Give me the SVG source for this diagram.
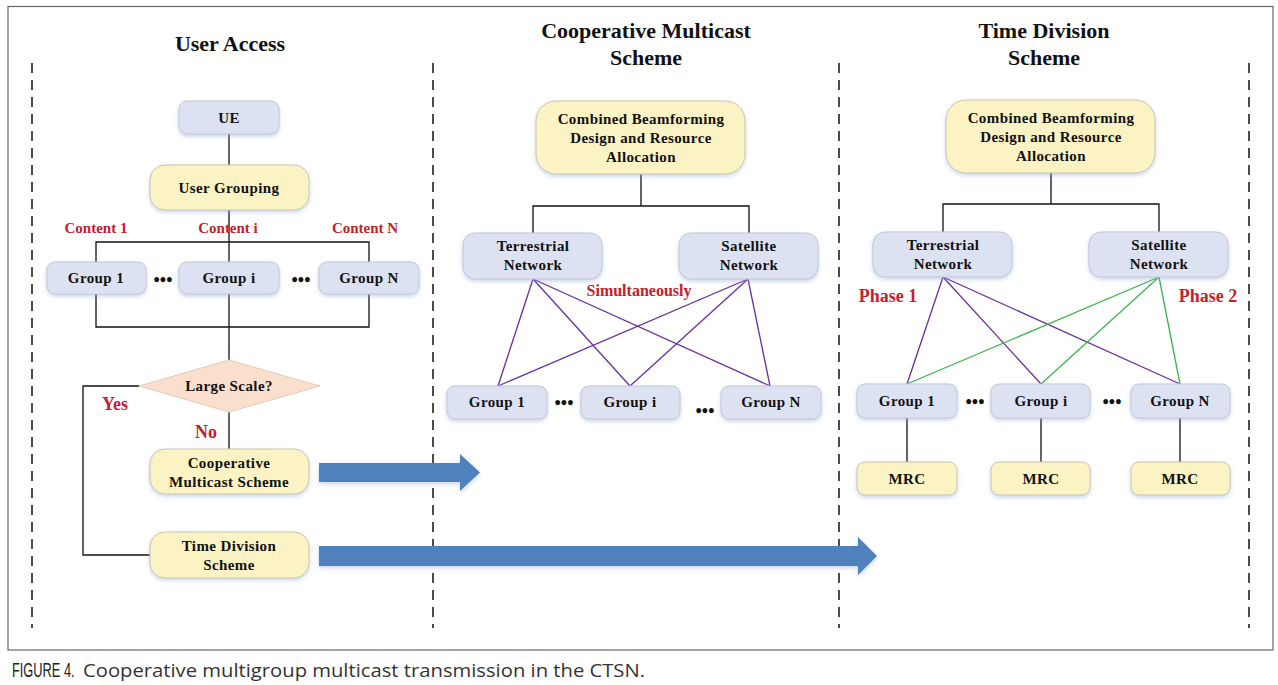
<svg xmlns="http://www.w3.org/2000/svg" width="1278" height="685" viewBox="0 0 1278 685">
<defs>
<filter id="sh" x="-10%" y="-20%" width="120%" height="150%">
<feDropShadow dx="0" dy="2" stdDeviation="2" flood-color="#8aa2d0" flood-opacity="0.45"/>
</filter>
<style>
.blue{fill:#dde2f3;stroke:#c3c7d3;stroke-width:1;filter:url(#sh)}
.yel{fill:#fbf3c4;stroke:#c9c6b0;stroke-width:1;filter:url(#sh)}
.t{font-family:"Liberation Serif","Times New Roman",serif;font-weight:bold;font-size:15px;fill:#111;text-anchor:middle;letter-spacing:0.4px}
.h{font-family:"Liberation Serif","Times New Roman",serif;font-weight:bold;font-size:22px;fill:#111;text-anchor:middle}
.r{font-family:"Liberation Serif","Times New Roman",serif;font-weight:bold;fill:#c4202c;text-anchor:middle}
.ln{stroke:#111;stroke-width:1.3;fill:none}
.pu{stroke:#6a2ea0;stroke-width:1.3;fill:none}
.gr{stroke:#3cb44b;stroke-width:1.3;fill:none}
.dash{stroke:#111;stroke-width:1.5;stroke-dasharray:10,7;fill:none}
.dots{font-family:"Liberation Serif",serif;font-weight:bold;font-size:18px;fill:#111;text-anchor:middle}
.arr{fill:#4f81bd;filter:url(#sh)}
</style>
</defs>
<rect width="1278" height="685" fill="#fff"/>
<rect x="8" y="6.5" width="1265" height="643.5" fill="none" stroke="#666" stroke-width="1.2"/>

<g id="dividers">
<line class="dash" x1="32" y1="63" x2="32" y2="628"/>
<line class="dash" x1="433" y1="63" x2="433" y2="628"/>
<line class="dash" x1="839" y1="63" x2="839" y2="628"/>
<line class="dash" x1="1249" y1="63" x2="1249" y2="628"/>
</g>

<g id="titles">
<text class="h" x="230" y="51">User Access</text>
<text class="h" x="646" y="38">Cooperative Multicast</text>
<text class="h" x="646" y="65">Scheme</text>
<text class="h" x="1044" y="38">Time Division</text>
<text class="h" x="1044" y="65">Scheme</text>
</g>

<g id="connectors">
<line class="ln" x1="229" y1="134" x2="229" y2="165"/>
<line class="ln" x1="229" y1="210" x2="229" y2="262"/>
<polyline class="ln" points="96,262 96,242 369,242 369,262"/>
<polyline class="ln" points="96,294 96,327 369,327 369,294"/>
<line class="ln" x1="229" y1="294" x2="229" y2="360"/>
<line class="ln" x1="229" y1="412" x2="229" y2="449"/>
<polyline class="ln" points="139,386 83,386 83,555 150,555"/>
<line class="ln" x1="641" y1="174" x2="641" y2="206"/>
<polyline class="ln" points="533,233 533,206 749,206 749,233"/>
<line class="pu" x1="533" y1="279" x2="498" y2="386"/>
<line class="pu" x1="533" y1="279" x2="630" y2="386"/>
<line class="pu" x1="533" y1="279" x2="770" y2="386"/>
<line class="pu" x1="748" y1="279" x2="498" y2="386"/>
<line class="pu" x1="748" y1="279" x2="630" y2="386"/>
<line class="pu" x1="748" y1="279" x2="770" y2="386"/>
<line class="ln" x1="1051" y1="173" x2="1051" y2="204"/>
<polyline class="ln" points="943,232 943,204 1159,204 1159,232"/>
<line class="pu" x1="943" y1="277" x2="907" y2="384"/>
<line class="pu" x1="943" y1="277" x2="1041" y2="384"/>
<line class="pu" x1="943" y1="277" x2="1180" y2="384"/>
<line class="gr" x1="1159" y1="277" x2="907" y2="384"/>
<line class="gr" x1="1159" y1="277" x2="1041" y2="384"/>
<line class="gr" x1="1159" y1="277" x2="1180" y2="384"/>
<line class="ln" x1="907" y1="418" x2="907" y2="462"/>
<line class="ln" x1="1041" y1="418" x2="1041" y2="462"/>
<line class="ln" x1="1180" y1="418" x2="1180" y2="462"/>
<polygon class="arr" points="319,463 460,463 460,454 480,472.5 460,491 460,482 319,482"/>
<polygon class="arr" points="319,546 858,546 858,537 877,556 858,575 858,566 319,566"/>
</g>

<g id="ue"><rect class="blue" x="179" y="101" width="100" height="33" rx="8"/><text class="t" x="229" y="123">UE</text></g>
<g id="user-grouping"><rect class="yel" x="150" y="165" width="159" height="45" rx="15"/><text class="t" x="229" y="193">User Grouping</text></g>

<g id="content-labels">
<text class="r" font-size="15" x="96" y="233">Content 1</text>
<text class="r" font-size="15" x="228" y="233">Content i</text>
<text class="r" font-size="15" x="365" y="233">Content N</text>
</g>

<g id="ua-group1"><rect class="blue" x="47" y="262" width="99" height="32" rx="8"/><text class="t" x="96" y="283">Group 1</text></g>
<g id="ua-groupi"><rect class="blue" x="179" y="262" width="100" height="32" rx="8"/><text class="t" x="229" y="283">Group i</text></g>
<g id="ua-groupN"><rect class="blue" x="319" y="262" width="100" height="32" rx="8"/><text class="t" x="369" y="283">Group N</text></g>
<text class="dots" x="163" y="286">•••</text>
<text class="dots" x="301" y="286">•••</text>

<g id="large-scale"><polygon points="229,360 320,386 229,412 139,386" fill="#f9dfcc" stroke="#e3cbbb" stroke-width="1"/><text class="t" x="229" y="391">Large Scale?</text></g>
<g id="yes-no">
<text class="r" font-size="18" x="115" y="410">Yes</text>
<text class="r" font-size="18" x="206" y="438">No</text>
</g>

<g id="coop-scheme"><rect class="yel" x="150" y="449" width="159" height="45" rx="15"/><text class="t" x="229" y="468">Cooperative</text><text class="t" x="229" y="487">Multicast Scheme</text></g>
<g id="td-scheme"><rect class="yel" x="150" y="532" width="159" height="46" rx="15"/><text class="t" x="229" y="551">Time Division</text><text class="t" x="229" y="570">Scheme</text></g>

<g id="cm-combined"><rect class="yel" x="536" y="101" width="209" height="73" rx="20"/><text class="t" x="641" y="124">Combined Beamforming</text><text class="t" x="641" y="143">Design and Resource</text><text class="t" x="641" y="162">Allocation</text></g>
<g id="cm-terrestrial"><rect class="blue" x="463" y="233" width="139" height="46" rx="12"/><text class="t" x="533" y="251">Terrestrial</text><text class="t" x="533" y="270">Network</text></g>
<g id="cm-satellite"><rect class="blue" x="679" y="233" width="139" height="46" rx="12"/><text class="t" x="749" y="251">Satellite</text><text class="t" x="749" y="270">Network</text></g>
<text class="r" font-size="16" x="639" y="296">Simultaneously</text>
<g id="cm-group1"><rect class="blue" x="447" y="386" width="100" height="33" rx="8"/><text class="t" x="497" y="407">Group 1</text></g>
<g id="cm-groupi"><rect class="blue" x="581" y="386" width="99" height="33" rx="8"/><text class="t" x="630" y="407">Group i</text></g>
<g id="cm-groupN"><rect class="blue" x="721" y="386" width="100" height="33" rx="8"/><text class="t" x="771" y="407">Group N</text></g>
<text class="dots" x="564" y="409">•••</text>
<text class="dots" x="705" y="417">•••</text>

<g id="td-combined"><rect class="yel" x="946" y="100" width="209" height="73" rx="20"/><text class="t" x="1051" y="123">Combined Beamforming</text><text class="t" x="1051" y="142">Design and Resource</text><text class="t" x="1051" y="161">Allocation</text></g>
<g id="td-terrestrial"><rect class="blue" x="873" y="232" width="139" height="45" rx="12"/><text class="t" x="943" y="250">Terrestrial</text><text class="t" x="943" y="269">Network</text></g>
<g id="td-satellite"><rect class="blue" x="1089" y="232" width="139" height="45" rx="12"/><text class="t" x="1159" y="250">Satellite</text><text class="t" x="1159" y="269">Network</text></g>
<text class="r" font-size="18" x="888" y="302">Phase 1</text>
<text class="r" font-size="18" x="1208" y="302">Phase 2</text>
<g id="td-group1"><rect class="blue" x="857" y="384" width="100" height="34" rx="8"/><text class="t" x="907" y="406">Group 1</text></g>
<g id="td-groupi"><rect class="blue" x="991" y="384" width="99" height="34" rx="8"/><text class="t" x="1041" y="406">Group i</text></g>
<g id="td-groupN"><rect class="blue" x="1131" y="384" width="99" height="34" rx="8"/><text class="t" x="1180" y="406">Group N</text></g>
<text class="dots" x="975" y="408">•••</text>
<text class="dots" x="1112" y="408">•••</text>
<g id="td-mrc1"><rect class="yel" x="857" y="462" width="100" height="33" rx="8"/><text class="t" x="907" y="484">MRC</text></g>
<g id="td-mrci"><rect class="yel" x="991" y="462" width="99" height="33" rx="8"/><text class="t" x="1041" y="484">MRC</text></g>
<g id="td-mrcN"><rect class="yel" x="1131" y="462" width="99" height="33" rx="8"/><text class="t" x="1180" y="484">MRC</text></g>

<g id="caption">
<text transform="translate(12,677) scale(0.64,1)" x="0" y="0" font-family="'Liberation Sans',sans-serif" font-size="20" fill="#222">FIGURE 4.</text>
<text x="83" y="677" font-family="'Open Sans','Liberation Sans',sans-serif" font-size="18.5" fill="#333" textLength="562" lengthAdjust="spacingAndGlyphs">Cooperative multigroup multicast transmission in the CTSN.</text>
</g>
</svg>
